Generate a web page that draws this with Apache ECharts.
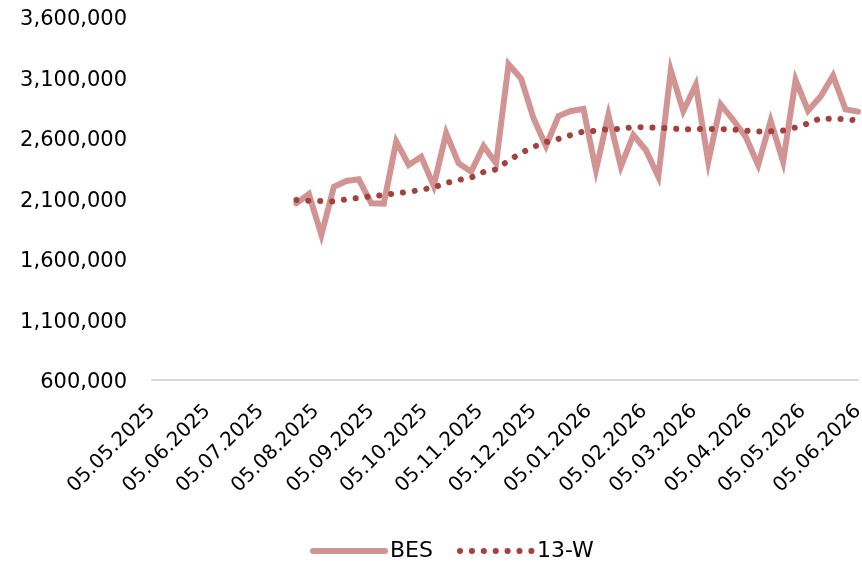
<!DOCTYPE html>
<html>
<head>
<meta charset="utf-8">
<script src="https://cdn.jsdelivr.net/npm/echarts@6/dist/echarts.min.js"></script>
<style>
html,body{margin:0;padding:0;background:#fff;}
#chart{width:862px;height:564px;}
</style>
</head>
<body>
<div id="chart"></div>
<script>
// Weekly dates (Fridays), first and last
const firstWeek = [2025, 7, 25];
const weekCount = 46;
// Axis range and tick label dates (DD.MM.YYYY)
const axisStart = [2025, 5, 5];
const axisEnd = [2026, 6, 5];
const tickLabels = ['05.05.2025','05.06.2025','05.07.2025','05.08.2025','05.09.2025','05.10.2025','05.11.2025','05.12.2025','05.01.2026','05.02.2026','05.03.2026','05.04.2026','05.05.2026','05.06.2026'];

const besValues = [
  2060000, 2137000, 1798000, 2197000, 2245000, 2259000, 2060000, 2058000,
  2570000, 2377000, 2446000, 2205000, 2639000, 2391000, 2322000, 2534000,
  2391000, 3210000, 3092000, 2763000, 2534000, 2782000, 2823000, 2840000,
  2335000, 2790000, 2363000, 2625000, 2501000, 2280000, 3160000, 2823000,
  3038000, 2404000, 2877000, 2749000, 2611000, 2377000, 2741000, 2404000,
  3079000, 2826000, 2943000, 3115000, 2837000, 2818000
];
const w13Values = [
  2088000, 2082000, 2079000, 2075000, 2094000, 2104000, 2118000, 2129000,
  2143000, 2155000, 2172000, 2191000, 2228000, 2253000, 2273000, 2319000,
  2340000, 2414000, 2476000, 2526000, 2567000, 2592000, 2625000, 2653000,
  2660000, 2673000, 2674000, 2691000, 2689000, 2684000, 2680000, 2670000,
  2674000, 2674000, 2674000, 2670000, 2660000, 2653000, 2655000, 2662000,
  2687000, 2720000, 2763000, 2757000, 2757000, 2743000
];
const yMin = 600000, yMax = 3600000, yStep = 500000;

function mkDate(a){ return Date.UTC(a[0], a[1]-1, a[2]); }
function parseLabel(s){ const p = s.split('.'); return Date.UTC(+p[2], +p[1]-1, +p[0]); }
const weekDates = [];
for (let i = 0; i < weekCount; i++) {
  weekDates.push(Date.UTC(firstWeek[0], firstWeek[1]-1, firstWeek[2] + 7*i));
}
const tickValues = tickLabels.map(parseLabel);
function pad(n){ return (n<10?'0':'')+n; }

const font = 'DejaVu Sans';
const besColor = '#d29493';
const w13Color = '#a5403e';
const chart = echarts.init(document.getElementById('chart'), null, {renderer:'canvas'});
chart.setOption({
  animation: false,
  backgroundColor: '#ffffff',
  grid: { left: 152, right: 4, top: 17, bottom: 184, containLabel: false, outerBoundsMode: 'none' },
  xAxis: {
    type: 'value',
    min: mkDate(axisStart),
    max: mkDate(axisEnd),
    axisLine: { show: true, lineStyle: { color: '#d9d9d9', width: 2 } },
    axisTick: { show: false },
    splitLine: { show: false },
    axisLabel: {
      customValues: tickValues,
      rotate: 45,
      margin: 28,
      color: '#000',
      fontFamily: font,
      fontSize: 20,
      formatter: function (v) {
        const d = new Date(v);
        return pad(d.getUTCDate()) + '.' + pad(d.getUTCMonth()+1) + '.' + d.getUTCFullYear();
      }
    }
  },
  yAxis: {
    type: 'value',
    min: yMin, max: yMax, interval: yStep,
    axisLine: { show: false },
    axisTick: { show: false },
    splitLine: { show: false },
    axisLabel: {
      margin: 25,
      color: '#000',
      fontFamily: font,
      fontSize: 21,
      formatter: function (v) { return '{n|' + v.toLocaleString('en-US') + '}'; },
      rich: {
        n: { fontFamily: font, fontSize: 21, color: '#000', padding: [6, 0, 0, 0] }
      }
    }
  },
  legend: {
    left: 310,
    top: 540,
    padding: 0,
    itemWidth: 72,
    itemHeight: 14,
    itemGap: 24,
    itemStyle: { opacity: 0 },
    lineStyle: { width: 'inherit' },
    textStyle: { color: '#000', fontFamily: font, fontSize: 22 },
    data: ['BES', '13-W']
  },
  series: [
    {
      name: 'BES',
      type: 'line',
      data: weekDates.map((d,i)=>[d, besValues[i]]),
      showSymbol: false,
      symbol: 'none',
      lineStyle: { color: besColor, width: 6, join: 'miter', cap: 'round' },
      itemStyle: { color: besColor },
      z: 2
    },
    {
      name: '13-W',
      type: 'line',
      data: weekDates.map((d,i)=>[d, w13Values[i]]),
      showSymbol: false,
      symbol: 'none',
      lineStyle: { color: w13Color, width: 6, type: [0.1, 11.8], cap: 'round' },
      itemStyle: { color: w13Color },
      z: 3
    }
  ]
});
</script>
</body>
</html>
